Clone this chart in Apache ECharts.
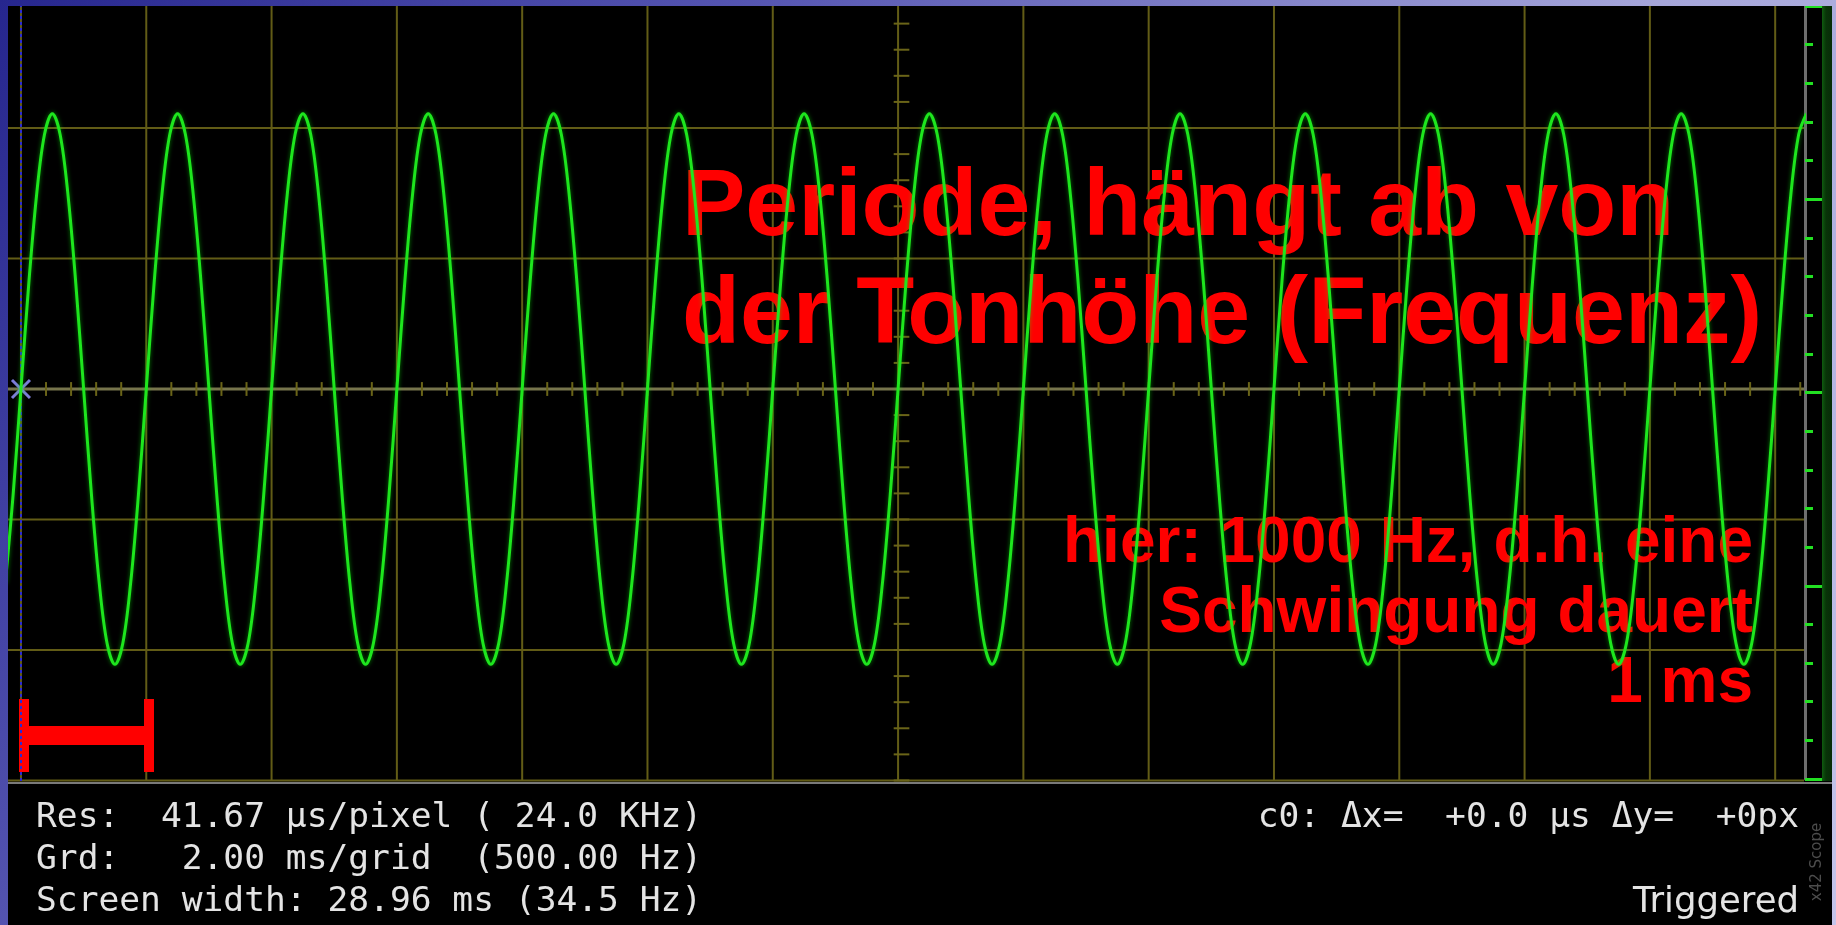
<!DOCTYPE html>
<html>
<head>
<meta charset="utf-8">
<title>Oszilloskop – 1000 Hz</title>
<script src="https://cdn.jsdelivr.net/npm/echarts@6/dist/echarts.min.js"></script>
<style>
  html, body { margin: 0; padding: 0; width: 1836px; height: 925px; overflow: hidden; }
  body { background: linear-gradient(128deg, #26268e 0%, #5656b2 30%, #a6a6da 65%, #c4c4ea 100%); position: relative; }
  #chart { position: absolute; left: 8px; top: 6px; width: 1824px; height: 919px; background: #000; }
</style>
</head>
<body>
<div id="chart"></div>
<script>
// scope trace in divisions, one sample every 0.125 ms, first sample at -0.25 ms
const timeStartMs = -0.25;
const sampleStepMs = 0.125;
const traceDiv = [
  -1.49, -0.81,
  0, 0.81, 1.49, 1.95, 2.11, 1.95, 1.49, 0.81, 0, -0.81, -1.49, -1.95, -2.11, -1.95, -1.49, -0.81,
  0, 0.81, 1.49, 1.95, 2.11, 1.95, 1.49, 0.81, 0, -0.81, -1.49, -1.95, -2.11, -1.95, -1.49, -0.81,
  0, 0.81, 1.49, 1.95, 2.11, 1.95, 1.49, 0.81, 0, -0.81, -1.49, -1.95, -2.11, -1.95, -1.49, -0.81,
  0, 0.81, 1.49, 1.95, 2.11, 1.95, 1.49, 0.81, 0, -0.81, -1.49, -1.95, -2.11, -1.95, -1.49, -0.81,
  0, 0.81, 1.49, 1.95, 2.11, 1.95, 1.49, 0.81, 0, -0.81, -1.49, -1.95, -2.11, -1.95, -1.49, -0.81,
  0, 0.81, 1.49, 1.95, 2.11, 1.95, 1.49, 0.81, 0, -0.81, -1.49, -1.95, -2.11, -1.95, -1.49, -0.81,
  0, 0.81, 1.49, 1.95, 2.11, 1.95, 1.49, 0.81, 0, -0.81, -1.49, -1.95, -2.11, -1.95, -1.49, -0.81,
  0, 0.81, 1.49, 1.95, 2.11, 1.95, 1.49, 0.81, 0, -0.81, -1.49, -1.95, -2.11, -1.95, -1.49, -0.81,
  0, 0.81, 1.49, 1.95, 2.11, 1.95, 1.49, 0.81, 0, -0.81, -1.49, -1.95, -2.11, -1.95, -1.49, -0.81,
  0, 0.81, 1.49, 1.95, 2.11, 1.95, 1.49, 0.81, 0, -0.81, -1.49, -1.95, -2.11, -1.95, -1.49, -0.81,
  0, 0.81, 1.49, 1.95, 2.11, 1.95, 1.49, 0.81, 0, -0.81, -1.49, -1.95, -2.11, -1.95, -1.49, -0.81,
  0, 0.81, 1.49, 1.95, 2.11, 1.95, 1.49, 0.81, 0, -0.81, -1.49, -1.95, -2.11, -1.95, -1.49, -0.81,
  0, 0.81, 1.49, 1.95, 2.11, 1.95, 1.49, 0.81, 0, -0.81, -1.49, -1.95, -2.11, -1.95, -1.49, -0.81,
  0, 0.81, 1.49, 1.95, 2.11, 1.95, 1.49, 0.81, 0, -0.81, -1.49, -1.95, -2.11, -1.95, -1.49, -0.81,
  0, 0.81, 1.49, 1.95, 2.11
];

// 2 ms per grid, 1 division per grid line
const gridTimesMs = [0, 2, 4, 6, 8, 10, 12, 14, 16, 18, 20, 22, 24, 26, 28];
const gridLevelsDiv = [-3, -2, -1, 1, 2];
const centerTimeMs = 14;

const infoLines = [
  'Res:  41.67 µs/pixel ( 24.0 KHz)',
  'Grd:   2.00 ms/grid  (500.00 Hz)',
  'Screen width: 28.96 ms (34.5 Hz)'
];
const cursorInfo = 'c0: Δx=  +0.0 µs Δy=  +0px';
const triggerState = 'Triggered';
const titleLines = ['Periode, hängt ab von', 'der Tonhöhe (Frequenz)'];
const noteLines = ['hier: 1000 Hz, d.h. eine', 'Schwingung dauert', '1 ms'];

const xMin = -0.207, xMax = 28.46;
const yMin = -3.004, yMax = 2.935;

const gridColor = '#625c16';
const traceData = traceDiv.map((v, i) => [timeStartMs + i * sampleStepMs, v]);

// small graticule ticks on the centre lines
let centerTicks = [];
for (let k = 1; k <= 71; k++) {
  centerTicks.push([k * 0.4, -0.053, k * 0.4, 0.053]);
}
for (let k = -15; k <= 14; k++) {
  if (k === 0) continue;
  centerTicks.push([centerTimeMs - 0.07, k * 0.2, centerTimeMs + 0.18, k * 0.2]);
}

function segment(color, width) {
  return function (params, api) {
    const a = api.coord([api.value(0), api.value(1)]);
    const b = api.coord([api.value(2), api.value(3)]);
    return {
      type: 'line',
      shape: { x1: a[0], y1: a[1], x2: b[0], y2: b[1] },
      style: { stroke: color, lineWidth: width }
    };
  };
}

function label(x, y, text, font, fill, align, z) {
  return {
    type: 'text', z: z, x: x, y: y,
    style: { text: text, font: font, fill: fill, textAlign: align, textVerticalAlign: 'middle' }
  };
}

const myChart = echarts.init(document.getElementById('chart'));

const titleFont = 'bold 95px "Liberation Sans"';
const noteFont = 'bold 64px "Liberation Sans"';
const monoFont = '34.6px "DejaVu Sans Mono"';

const option = {
  animation: false,
  backgroundColor: '#000',
  grid: [
    { left: 0, top: 0, right: 28, bottom: 144 },
    { left: 0, top: -7, right: 27, height: 780 }
  ],
  xAxis: [
    { type: 'value', min: xMin, max: xMax, show: false },
    { type: 'value', gridIndex: 1, min: 0, max: 1, show: false }
  ],
  yAxis: [
    { type: 'value', min: yMin, max: yMax, show: false },
    {
      type: 'value',
      gridIndex: 1,
      position: 'right',
      min: -10,
      max: 10,
      interval: 5,
      axisLine: { show: true, onZero: false, lineStyle: { color: '#6e6e6e', width: 3 } },
      axisTick: { show: true, length: 17, lineStyle: { color: '#22e022', width: 3 } },
      minorTick: { show: true, splitNumber: 5, length: 8, lineStyle: { color: '#22e022', width: 3 } },
      axisLabel: { show: false },
      splitLine: { show: false }
    }
  ],
  series: [
    {
      name: 'vgrid',
      type: 'custom',
      z: 1,
      silent: true,
      encode: { x: [0, 2], y: [1, 3] },
      data: gridTimesMs.map((t) => [t, yMin, t, yMax]),
      renderItem: segment(gridColor, 2)
    },
    {
      name: 'hgrid',
      type: 'custom',
      z: 1,
      silent: true,
      encode: { x: [0, 2], y: [1, 3] },
      data: gridLevelsDiv.map((v) => [xMin, v, xMax, v]),
      renderItem: segment(gridColor, 2)
    },
    {
      name: 'center',
      type: 'custom',
      z: 1,
      silent: true,
      encode: { x: [0, 2], y: [1, 3] },
      data: [[xMin, 0, xMax, 0]],
      renderItem: segment('#77754c', 3)
    },
    {
      name: 'ticks',
      type: 'custom',
      z: 1,
      silent: true,
      encode: { x: [0, 2], y: [1, 3] },
      data: centerTicks,
      renderItem: segment('#6a6418', 2)
    },
    {
      name: 'trace',
      type: 'line',
      z: 5,
      data: traceData,
      showSymbol: false,
      smooth: 0.35,
      clip: true,
      lineStyle: { color: '#1ee61e', width: 3, shadowBlur: 4, shadowColor: 'rgba(0,255,0,0.5)' },
      markLine: {
        silent: true,
        symbol: 'none',
        label: { show: false },
        lineStyle: { color: '#2a2ad4', width: 2, type: [3, 3] },
        data: [{ xAxis: 0 }]
      },
      markPoint: {
        silent: true,
        symbol: 'path://M0,0L10,10M10,0L0,10',
        symbolSize: 18,
        label: { show: false },
        itemStyle: { color: 'none', borderColor: '#7c7cd8', borderWidth: 3 },
        data: [{ coord: [0, 0] }]
      }
    }
  ],
  graphic: [
    // level meter strip on the right
    {
      type: 'rect',
      z: 0,
      shape: { x: 1814, y: 0, width: 10, height: 775 },
      style: {
        fill: new echarts.graphic.LinearGradient(0, 0, 1, 0, [
          { offset: 0, color: '#0f5c0f' },
          { offset: 0.4, color: '#083408' },
          { offset: 1, color: '#072c07' }
        ])
      }
    },
    {
      type: 'line',
      z: 3,
      shape: { x1: 0, y1: 777, x2: 1824, y2: 777 },
      style: { stroke: '#7a7a7a', lineWidth: 2 }
    },
    // period marker
    { type: 'rect', z: 4, shape: { x: 11, y: 693, width: 10, height: 73 }, style: { fill: '#ff0000' } },
    { type: 'rect', z: 4, shape: { x: 136, y: 693, width: 10, height: 73 }, style: { fill: '#ff0000' } },
    { type: 'rect', z: 4, shape: { x: 11, y: 720, width: 135, height: 19 }, style: { fill: '#ff0000' } },
    // annotations
    label(674, 203, titleLines[0], titleFont, '#ff0000', 'left', 2),
    label(674, 311, titleLines[1], titleFont, '#ff0000', 'left', 2),
    label(1745, 538, noteLines[0], noteFont, '#ff0000', 'right', 2),
    label(1745, 608, noteLines[1], noteFont, '#ff0000', 'right', 2),
    label(1745, 678, noteLines[2], noteFont, '#ff0000', 'right', 2),
    // status lines
    label(28, 812, infoLines[0], monoFont, '#e4e4e4', 'left', 3),
    label(28, 854, infoLines[1], monoFont, '#e4e4e4', 'left', 3),
    label(28, 896, infoLines[2], monoFont, '#e4e4e4', 'left', 3),
    label(1791, 812, cursorInfo, monoFont, '#e4e4e4', 'right', 3),
    label(1791, 897, triggerState, '35.5px "DejaVu Sans"', '#e4e4e4', 'right', 3),
    {
      type: 'text', z: 3, x: 1809, y: 856, rotation: Math.PI / 2,
      style: { text: 'x42 Scope', font: '15px "DejaVu Sans"', fill: '#4c4c4c', textAlign: 'center', textVerticalAlign: 'middle' }
    }
  ]
};

myChart.setOption(option);
</script>
</body>
</html>
